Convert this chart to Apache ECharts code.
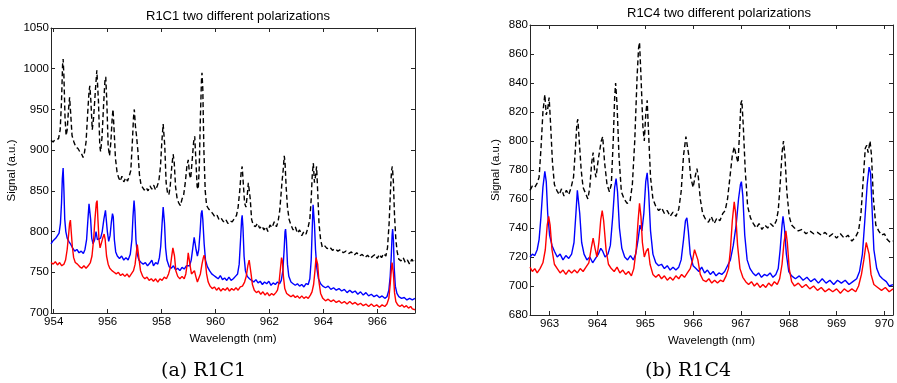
<!DOCTYPE html>
<html><head><meta charset="utf-8">
<script src="https://cdn.jsdelivr.net/npm/echarts@6/dist/echarts.min.js"></script>
<style>html,body{margin:0;padding:0;background:#fff}#c{width:897px;height:383px}</style>
</head><body><div id="c"></div>
<script>
const titles = ['R1C1 two different polarizations', 'R1C4 two different polarizations'];
const captions = ['(a) R1C1', '(b) R1C4'];
const xName = 'Wavelength (nm)';
const yName = 'Signal (a.u.)';
const leftXTicks = [954, 956, 958, 960, 962, 964, 966];
const rightXTicks = [963, 964, 965, 966, 967, 968, 969, 970];

const leftBlack = [[953.90,912],[953.98,910],[954.05,913],[954.12,911],[954.18,914],[954.24,925],[954.29,960],[954.33,1005],[954.35,1012],[954.38,990],[954.42,940],[954.46,918],[954.50,925],[954.55,950],[954.59,965],[954.63,945],[954.68,918],[954.75,910],[954.82,904],[954.90,902],[954.97,898],[955.04,895],[955.09,891],[955.14,897],[955.20,910],[955.26,945],[955.31,972],[955.34,979],[955.38,960],[955.43,925],[955.48,940],[955.55,975],[955.60,998],[955.62,1000],[955.66,960],[955.71,905],[955.74,898],[955.79,915],[955.85,955],[955.90,985],[955.93,990],[955.97,960],[956.02,905],[956.07,893],[956.12,910],[956.17,940],[956.20,950],[956.24,925],[956.29,890],[956.35,873],[956.41,866],[956.47,862],[956.53,868],[956.60,861],[956.67,866],[956.74,862],[956.80,868],[956.86,875],[956.91,905],[956.96,940],[956.99,950],[957.03,930],[957.07,918],[957.12,900],[957.18,870],[957.24,857],[957.30,855],[957.36,851],[957.43,854],[957.50,850],[957.57,856],[957.64,852],[957.71,857],[957.78,851],[957.84,856],[957.90,862],[957.96,880],[958.01,910],[958.06,932],[958.08,934],[958.12,905],[958.17,860],[958.22,848],[958.27,845],[958.32,855],[958.38,880],[958.43,895],[958.47,885],[958.52,855],[958.58,840],[958.64,835],[958.70,832],[958.76,840],[958.82,845],[958.88,860],[958.94,880],[958.99,888],[959.04,870],[959.08,865],[959.13,885],[959.19,910],[959.23,917],[959.27,890],[959.32,855],[959.36,852],[959.40,880],[959.44,940],[959.48,985],[959.50,995],[959.53,975],[959.57,900],[959.62,850],[959.67,832],[959.74,828],[959.82,825],[959.90,822],[959.98,818],[960.06,820],[960.14,814],[960.22,816],[960.30,812],[960.38,815],[960.46,810],[960.54,813],[960.62,812],[960.70,816],[960.78,820],[960.84,830],[960.90,850],[960.95,872],[960.99,880],[961.03,860],[961.08,835],[961.13,830],[961.18,845],[961.22,860],[961.25,862],[961.29,840],[961.34,815],[961.40,808],[961.48,806],[961.56,810],[961.64,804],[961.72,807],[961.80,802],[961.88,806],[961.94,800],[962.02,808],[962.10,805],[962.18,812],[962.26,806],[962.32,812],[962.38,825],[962.43,845],[962.47,862],[962.51,875],[962.55,893],[962.58,885],[962.62,855],[962.67,830],[962.73,815],[962.80,808],[962.88,802],[962.96,806],[963.04,798],[963.12,802],[963.20,795],[963.28,800],[963.36,797],[963.44,806],[963.50,815],[963.55,840],[963.59,870],[963.63,884],[963.67,860],[963.71,868],[963.75,880],[963.79,850],[963.84,810],[963.90,790],[963.96,781],[964.04,783],[964.14,779],[964.24,781],[964.34,777],[964.44,779],[964.54,776],[964.64,778],[964.74,774],[964.84,776],[964.94,773],[965.04,775],[965.14,771],[965.24,774],[965.34,770],[965.44,772],[965.54,768],[965.64,771],[965.74,767],[965.84,770],[965.92,772],[966.00,767],[966.08,772],[966.16,768],[966.24,773],[966.32,770],[966.38,780],[966.44,810],[966.49,850],[966.53,875],[966.56,880],[966.60,860],[966.64,820],[966.69,790],[966.74,775],[966.80,766],[966.88,764],[966.96,768],[967.04,762],[967.12,765],[967.20,760],[967.28,766],[967.36,762],[967.40,764]];

const leftBlue = [[953.90,785],[953.96,788],[954.02,787],[954.08,792],[954.14,790],[954.20,798],[954.25,810],[954.29,835],[954.32,865],[954.35,878],[954.38,850],[954.41,815],[954.45,800],[954.50,792],[954.56,788],[954.62,785],[954.70,780],[954.78,776],[954.86,778],[954.94,774],[955.02,776],[955.10,773],[955.16,778],[955.22,790],[955.27,815],[955.31,834],[955.34,836],[955.37,815],[955.41,792],[955.46,785],[955.52,790],[955.57,800],[955.62,790],[955.68,788],[955.74,792],[955.80,800],[955.86,815],[955.92,826],[955.95,824],[955.99,800],[956.04,788],[956.09,795],[956.14,812],[956.18,822],[956.21,818],[956.25,790],[956.30,775],[956.36,770],[956.44,767],[956.52,770],[956.60,765],[956.68,768],[956.76,765],[956.84,772],[956.90,790],[956.94,818],[956.98,838],[957.01,825],[957.05,790],[957.10,772],[957.16,765],[957.24,762],[957.32,760],[957.40,762],[957.48,758],[957.56,761],[957.64,765],[957.70,758],[957.78,762],[957.86,760],[957.92,768],[957.97,782],[958.02,810],[958.06,830],[958.08,831],[958.11,810],[958.15,780],[958.20,765],[958.28,757],[958.36,755],[958.44,758],[958.52,753],[958.60,755],[958.68,752],[958.76,756],[958.84,754],[958.92,758],[958.98,760],[959.04,758],[959.10,765],[959.16,780],[959.21,793],[959.24,795],[959.28,778],[959.33,770],[959.38,778],[959.43,800],[959.47,822],[959.50,826],[959.53,815],[959.58,785],[959.63,765],[959.70,757],[959.78,752],[959.86,748],[959.94,746],[960.02,744],[960.10,742],[960.18,746],[960.26,741],[960.34,743],[960.42,740],[960.50,744],[960.58,740],[960.66,742],[960.74,745],[960.82,748],[960.88,760],[960.93,790],[960.97,815],[960.99,820],[961.02,805],[961.06,770],[961.11,752],[961.18,745],[961.26,742],[961.34,740],[961.42,738],[961.50,741],[961.58,737],[961.66,739],[961.74,735],[961.82,738],[961.90,736],[961.98,739],[962.06,734],[962.14,737],[962.22,735],[962.30,738],[962.38,736],[962.44,740],[962.50,752],[962.55,780],[962.58,800],[962.60,803],[962.63,790],[962.67,760],[962.72,745],[962.80,738],[962.88,736],[962.96,734],[963.04,736],[963.12,733],[963.20,735],[963.28,732],[963.36,736],[963.44,735],[963.50,742],[963.55,765],[963.59,805],[963.62,833],[963.64,835],[963.67,810],[963.71,778],[963.76,755],[963.82,742],[963.90,736],[963.98,733],[964.08,731],[964.18,733],[964.28,729],[964.38,731],[964.48,728],[964.58,730],[964.68,727],[964.78,729],[964.88,725],[964.98,728],[965.08,725],[965.18,727],[965.28,723],[965.38,726],[965.48,722],[965.58,725],[965.68,721],[965.78,723],[965.88,720],[965.98,722],[966.08,719],[966.18,721],[966.28,718],[966.36,720],[966.43,728],[966.48,745],[966.52,770],[966.55,795],[966.57,803],[966.60,790],[966.63,755],[966.67,733],[966.73,724],[966.80,720],[966.90,718],[967.00,719],[967.10,716],[967.20,718],[967.30,716],[967.40,718]];

const leftRed = [[953.90,762],[953.98,760],[954.06,763],[954.14,759],[954.22,762],[954.30,758],[954.38,760],[954.44,765],[954.50,778],[954.55,795],[954.59,810],[954.62,814],[954.65,800],[954.69,782],[954.74,768],[954.80,762],[954.88,760],[954.96,757],[955.04,755],[955.12,758],[955.20,755],[955.28,758],[955.36,762],[955.42,770],[955.48,790],[955.53,815],[955.58,835],[955.61,838],[955.64,815],[955.68,790],[955.72,780],[955.77,782],[955.82,792],[955.87,797],[955.91,790],[955.96,770],[956.02,760],[956.08,755],[956.16,752],[956.24,750],[956.32,748],[956.40,750],[956.48,746],[956.56,748],[956.64,745],[956.72,748],[956.80,744],[956.88,748],[956.96,752],[957.02,760],[957.07,775],[957.10,784],[957.13,782],[957.17,765],[957.22,752],[957.30,745],[957.38,742],[957.46,744],[957.54,740],[957.62,742],[957.70,739],[957.78,742],[957.86,738],[957.94,742],[958.02,740],[958.10,744],[958.18,742],[958.26,748],[958.32,755],[958.37,768],[958.42,780],[958.45,781],[958.48,770],[958.53,752],[958.60,745],[958.68,742],[958.76,745],[958.84,742],[958.90,748],[958.95,760],[958.99,774],[959.02,772],[959.06,758],[959.11,748],[959.17,750],[959.22,752],[959.27,745],[959.33,738],[959.38,740],[959.44,748],[959.50,760],[959.55,768],[959.58,771],[959.62,765],[959.67,748],[959.73,738],[959.80,733],[959.88,730],[959.96,732],[960.04,728],[960.12,731],[960.20,727],[960.28,730],[960.36,728],[960.44,731],[960.52,727],[960.60,730],[960.68,728],[960.76,731],[960.84,728],[960.92,732],[961.00,733],[961.08,738],[961.14,745],[961.20,758],[961.25,765],[961.28,763],[961.32,748],[961.37,735],[961.44,728],[961.52,725],[961.60,727],[961.68,723],[961.76,726],[961.84,722],[961.92,725],[962.00,721],[962.08,724],[962.16,722],[962.24,725],[962.30,728],[962.36,738],[962.41,755],[962.45,768],[962.48,764],[962.52,745],[962.57,730],[962.64,724],[962.72,722],[962.80,720],[962.88,722],[962.96,719],[963.04,721],[963.12,718],[963.20,721],[963.28,718],[963.36,720],[963.44,718],[963.52,722],[963.58,726],[963.64,735],[963.69,752],[963.73,768],[963.76,770],[963.79,760],[963.84,738],[963.90,724],[963.98,718],[964.08,715],[964.18,717],[964.28,714],[964.38,716],[964.48,713],[964.58,715],[964.68,712],[964.78,714],[964.88,711],[964.98,714],[965.08,711],[965.18,713],[965.28,710],[965.38,712],[965.48,709],[965.58,711],[965.68,708],[965.78,711],[965.88,708],[965.98,710],[966.08,707],[966.18,710],[966.28,708],[966.36,711],[966.43,718],[966.48,735],[966.52,752],[966.55,762],[966.57,763],[966.60,748],[966.64,725],[966.69,714],[966.76,710],[966.84,708],[966.92,710],[967.00,707],[967.08,709],[967.16,706],[967.24,708],[967.30,705],[967.36,707],[967.40,704]];

const rightBlack = [[962.59,766],[962.64,769],[962.69,768],[962.74,771],[962.78,775],[962.82,795],[962.86,820],[962.90,832],[962.93,818],[962.96,822],[962.99,830],[963.02,812],[963.06,785],[963.10,770],[963.15,766],[963.20,763],[963.25,767],[963.30,762],[963.35,766],[963.40,763],[963.45,768],[963.50,775],[963.54,795],[963.57,812],[963.59,815],[963.62,800],[963.66,780],[963.70,768],[963.75,764],[963.80,760],[963.84,768],[963.88,785],[963.91,792],[963.94,780],[963.97,775],[964.02,788],[964.08,800],[964.11,803],[964.15,785],[964.20,770],[964.25,765],[964.29,770],[964.33,800],[964.36,830],[964.38,840],[964.41,825],[964.45,790],[964.50,765],[964.56,760],[964.62,757],[964.68,758],[964.73,770],[964.78,800],[964.83,845],[964.86,864],[964.88,868],[964.91,845],[964.95,810],[964.98,800],[965.01,818],[965.04,828],[965.07,805],[965.11,775],[965.16,760],[965.22,755],[965.28,752],[965.34,754],[965.40,750],[965.46,752],[965.52,748],[965.58,751],[965.64,748],[965.70,753],[965.75,765],[965.80,790],[965.85,803],[965.88,804],[965.91,790],[965.95,775],[966.00,768],[966.04,775],[966.08,781],[966.11,775],[966.15,760],[966.20,750],[966.26,746],[966.32,744],[966.38,748],[966.44,743],[966.50,747],[966.56,745],[966.62,750],[966.67,752],[966.72,760],[966.77,775],[966.82,790],[966.86,796],[966.90,790],[966.94,785],[966.97,805],[967.00,826],[967.02,828],[967.05,810],[967.09,780],[967.14,755],[967.20,747],[967.26,743],[967.32,740],[967.38,743],[967.44,739],[967.50,742],[967.56,740],[967.62,743],[967.68,741],[967.74,745],[967.78,752],[967.82,770],[967.86,792],[967.89,800],[967.92,790],[967.96,765],[968.01,748],[968.06,742],[968.12,740],[968.20,738],[968.28,739],[968.36,736],[968.44,738],[968.52,736],[968.60,737],[968.68,735],[968.76,737],[968.84,734],[968.92,736],[969.00,733],[969.08,736],[969.16,733],[969.24,735],[969.32,731],[969.40,734],[969.46,738],[969.51,750],[969.56,775],[969.60,795],[969.63,797],[969.66,792],[969.70,800],[969.73,790],[969.77,760],[969.82,742],[969.88,738],[969.94,735],[970.00,736],[970.06,732],[970.12,730],[970.18,731]];

const rightBlue = [[962.59,720],[962.64,722],[962.69,721],[962.74,725],[962.78,732],[962.82,748],[962.86,768],[962.90,779],[962.93,772],[962.96,750],[963.00,735],[963.05,728],[963.10,724],[963.16,720],[963.22,722],[963.28,718],[963.34,721],[963.40,719],[963.46,722],[963.51,730],[963.55,750],[963.58,766],[963.60,767],[963.63,750],[963.67,730],[963.72,722],[963.78,718],[963.84,720],[963.90,716],[963.96,719],[964.02,722],[964.07,726],[964.11,724],[964.16,720],[964.22,722],[964.27,728],[964.32,748],[964.36,768],[964.39,774],[964.42,765],[964.46,740],[964.51,726],[964.57,720],[964.63,718],[964.69,721],[964.75,718],[964.80,722],[964.85,732],[964.89,742],[964.93,738],[964.97,750],[965.01,772],[965.04,778],[965.07,765],[965.11,738],[965.16,722],[965.22,716],[965.28,714],[965.34,715],[965.40,712],[965.46,714],[965.52,711],[965.58,713],[965.64,711],[965.70,713],[965.75,718],[965.80,732],[965.84,745],[965.87,747],[965.90,738],[965.94,722],[966.00,714],[966.06,712],[966.12,710],[966.18,713],[966.24,709],[966.30,711],[966.36,708],[966.42,710],[966.48,707],[966.54,709],[966.60,708],[966.66,710],[966.72,714],[966.78,718],[966.84,728],[966.90,742],[966.95,760],[966.99,770],[967.01,772],[967.04,762],[967.08,735],[967.13,718],[967.19,712],[967.25,709],[967.31,707],[967.37,709],[967.43,706],[967.49,708],[967.55,707],[967.61,709],[967.67,706],[967.73,708],[967.78,712],[967.82,725],[967.86,742],[967.88,748],[967.91,740],[967.95,722],[968.00,710],[968.06,707],[968.14,705],[968.22,707],[968.30,704],[968.38,706],[968.46,703],[968.54,705],[968.62,702],[968.70,705],[968.78,702],[968.86,704],[968.94,701],[969.02,704],[969.10,702],[969.18,704],[969.26,701],[969.34,703],[969.42,705],[969.48,710],[969.54,722],[969.59,745],[969.64,770],[969.68,782],[969.71,778],[969.74,755],[969.78,725],[969.84,712],[969.90,707],[969.96,705],[970.04,703],[970.10,700],[970.18,701]];

const rightRed = [[962.59,713],[962.64,710],[962.69,712],[962.74,709],[962.80,712],[962.86,716],[962.91,725],[962.95,742],[962.98,748],[963.01,742],[963.05,725],[963.10,715],[963.16,712],[963.22,709],[963.28,711],[963.34,708],[963.40,711],[963.46,709],[963.52,711],[963.58,709],[963.64,712],[963.70,710],[963.76,713],[963.82,716],[963.87,726],[963.91,733],[963.95,726],[963.99,720],[964.03,730],[964.07,746],[964.10,752],[964.13,745],[964.18,725],[964.23,715],[964.29,712],[964.35,710],[964.41,713],[964.47,709],[964.53,711],[964.59,708],[964.65,710],[964.71,707],[964.76,712],[964.81,725],[964.85,745],[964.88,757],[964.91,748],[964.94,730],[964.98,720],[965.02,724],[965.06,726],[965.10,715],[965.16,708],[965.22,706],[965.28,708],[965.34,705],[965.40,707],[965.46,704],[965.52,706],[965.58,704],[965.64,707],[965.70,705],[965.76,708],[965.82,706],[965.88,709],[965.94,712],[965.99,718],[966.03,725],[966.06,726],[966.10,718],[966.15,708],[966.21,704],[966.27,703],[966.33,705],[966.39,702],[966.45,704],[966.51,702],[966.57,704],[966.63,703],[966.69,707],[966.74,712],[966.78,725],[966.82,745],[966.86,758],[966.89,750],[966.93,728],[966.98,712],[967.04,706],[967.10,703],[967.16,701],[967.22,703],[967.28,700],[967.34,702],[967.40,699],[967.46,701],[967.52,699],[967.58,702],[967.64,700],[967.70,703],[967.76,701],[967.81,705],[967.86,715],[967.90,730],[967.94,738],[967.97,730],[968.01,712],[968.06,703],[968.12,700],[968.20,702],[968.28,699],[968.36,701],[968.44,698],[968.52,700],[968.60,697],[968.68,699],[968.76,696],[968.84,698],[968.92,696],[969.00,698],[969.08,695],[969.16,698],[969.24,696],[969.32,698],[969.40,696],[969.46,700],[969.52,708],[969.57,718],[969.62,730],[969.65,731],[969.68,722],[969.72,708],[969.78,701],[969.86,699],[969.94,697],[970.02,699],[970.10,696],[970.18,698]];

const FONT = 'Liberation Sans, Arial, Helvetica, sans-serif';
const AXC = '#262626';
const chart = echarts.init(document.getElementById('c'), null, {renderer: 'canvas'});
const plain = v => String(v);

function xAx(grid, min, max, ticks, pos, showLabel, name) {
  return {
    type: 'value', gridIndex: grid, min: min, max: max, position: pos,
    axisLine: {show: true, onZero: false, lineStyle: {color: AXC, width: 1}},
    axisTick: {show: true, inside: true, length: 4, customValues: ticks, lineStyle: {color: AXC}},
    axisLabel: {show: showLabel, customValues: ticks, formatter: plain, color: '#000', fontSize: 11.5, fontFamily: FONT, margin: 3},
    splitLine: {show: false},
    name: name || '', nameLocation: 'middle', nameGap: 16,
    nameTextStyle: {color: '#000', fontSize: 11.5, fontFamily: FONT}
  };
}
function yAx(grid, min, max, interval, pos, showLabel, name, gap) {
  return {
    type: 'value', gridIndex: grid, min: min, max: max, interval: interval, position: pos,
    axisLine: {show: true, onZero: false, lineStyle: {color: AXC, width: 1}},
    axisTick: {show: true, inside: true, length: 4, lineStyle: {color: AXC}},
    axisLabel: {show: showLabel, formatter: plain, color: '#000', fontSize: 11.5, fontFamily: FONT, margin: 2},
    splitLine: {show: false},
    name: name || '', nameLocation: 'middle', nameGap: gap || 30,
    nameTextStyle: {color: '#000', fontSize: 11.5, fontFamily: FONT}
  };
}
function line(data, color, xi, yi, dashed) {
  return {
    type: 'line', data: data, xAxisIndex: xi, yAxisIndex: yi, showSymbol: false, symbol: 'none',
    lineStyle: {color: color, width: 1.4, type: dashed ? [5, 3] : 'solid'},
    silent: true, animation: false
  };
}

chart.setOption({
  animation: false,
  backgroundColor: '#fff',
  title: [
    {text: titles[0], left: 233, top: 5, textAlign: 'center', textStyle: {fontSize: 13, fontWeight: 'normal', color: '#000', fontFamily: FONT}},
    {text: titles[1], left: 714, top: 2, textAlign: 'center', textStyle: {fontSize: 13, fontWeight: 'normal', color: '#000', fontFamily: FONT}}
  ],
  grid: [
    {left: 51, top: 28, width: 364, height: 285},
    {left: 530, top: 25, width: 366, height: 290}
  ],
  xAxis: [
    xAx(0, 953.9, 967.4, leftXTicks, 'bottom', true, xName),
    xAx(0, 953.9, 967.4, leftXTicks, 'top', false),
    xAx(1, 962.59, 970.18, rightXTicks, 'bottom', true, xName),
    xAx(1, 962.59, 970.18, rightXTicks, 'top', false)
  ],
  yAxis: [
    yAx(0, 700, 1050, 50, 'left', true, yName, 33),
    yAx(0, 700, 1050, 50, 'right', false),
    yAx(1, 680, 880, 20, 'left', true, yName, 28),
    yAx(1, 680, 880, 20, 'right', false)
  ],
  series: [
    line(leftBlack, '#000000', 0, 0, true),
    line(leftBlue, '#0000ff', 0, 0, false),
    line(leftRed, '#ff0000', 0, 0, false),
    line(rightBlack, '#000000', 2, 2, true),
    line(rightBlue, '#0000ff', 2, 2, false),
    line(rightRed, '#ff0000', 2, 2, false)
  ],
  graphic: [
    {type: 'text', left: 161, top: 362, style: {text: captions[0], fontSize: 19, fontFamily: 'DejaVu Serif, serif', fill: '#000'}},
    {type: 'text', left: 645, top: 362, style: {text: captions[1], fontSize: 19, fontFamily: 'DejaVu Serif, serif', fill: '#000'}}
  ]
});
</script>
</body></html>
